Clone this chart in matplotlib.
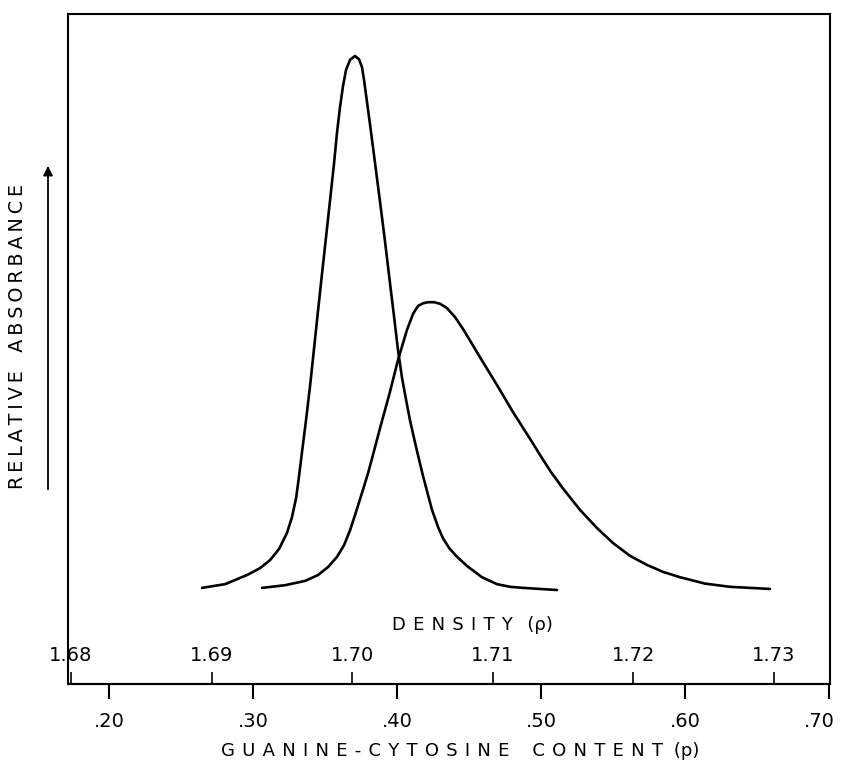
import matplotlib
matplotlib.use("Agg")
import matplotlib.pyplot as plt
from matplotlib.patches import FancyArrowPatch
from matplotlib.transforms import ScaledTranslation

plt.rcParams['font.family'] = ['DejaVu Sans']

# ---- data ----
# narrow band: GC content vs relative absorbance
gc_narrow = [0.2646, 0.2806, 0.2958, 0.3049, 0.3118, 0.3181, 0.3236, 0.3271,
             0.3299, 0.3319, 0.3340, 0.3368, 0.3396, 0.3424, 0.3451, 0.3479,
             0.3507, 0.3535, 0.3563, 0.3583, 0.3604, 0.3625, 0.3646, 0.3674,
             0.3708, 0.3736, 0.3757, 0.3771, 0.3785, 0.3799, 0.3813, 0.3847,
             0.3882, 0.3917, 0.3951, 0.3979, 0.4007, 0.4035, 0.4063, 0.4090,
             0.4132, 0.4181, 0.4243, 0.4285, 0.4319, 0.4361, 0.4410, 0.4486,
             0.4590, 0.4694, 0.4785, 0.4875, 0.4993, 0.5111]
abs_narrow = [0.004, 0.011, 0.028, 0.041, 0.056, 0.077, 0.107, 0.137,
              0.172, 0.212, 0.258, 0.318, 0.382, 0.453, 0.522, 0.592,
              0.661, 0.730, 0.800, 0.856, 0.904, 0.944, 0.974, 0.993,
              1.000, 0.994, 0.979, 0.955, 0.927, 0.899, 0.871, 0.800,
              0.727, 0.652, 0.575, 0.513, 0.449, 0.397, 0.356, 0.318,
              0.268, 0.213, 0.150, 0.118, 0.097, 0.079, 0.064, 0.045,
              0.024, 0.011, 0.006, 0.004, 0.002, 0.000]

# broad band
gc_broad = [0.3063, 0.3222, 0.3361, 0.3451, 0.3521, 0.3583, 0.3632, 0.3674,
            0.3715, 0.3757, 0.3799, 0.3833, 0.3882, 0.3951, 0.4007, 0.4069,
            0.4111, 0.4146, 0.4181, 0.4215, 0.4257, 0.4299, 0.4347, 0.4403,
            0.4458, 0.4514, 0.4576, 0.4694, 0.4806, 0.4924, 0.4993, 0.5069,
            0.5153, 0.5271, 0.5389, 0.5500, 0.5618, 0.5736, 0.5847, 0.5965,
            0.6139, 0.6313, 0.6590]
abs_broad = [0.004, 0.009, 0.017, 0.028, 0.043, 0.062, 0.084, 0.112,
             0.146, 0.182, 0.219, 0.253, 0.303, 0.371, 0.431, 0.487,
             0.517, 0.532, 0.537, 0.539, 0.539, 0.536, 0.528, 0.511,
             0.489, 0.464, 0.436, 0.384, 0.333, 0.283, 0.253, 0.221,
             0.190, 0.150, 0.116, 0.088, 0.064, 0.047, 0.034, 0.024,
             0.012, 0.006, 0.002]

gc_ticks = [0.20, 0.30, 0.40, 0.50, 0.60, 0.70]
gc_labels = ['.20', '.30', '.40', '.50', '.60', '.70']
density_ticks = [1.68, 1.69, 1.70, 1.71, 1.72, 1.73]
density_labels = ['1.68', '1.69', '1.70', '1.71', '1.72', '1.73']

TS = '\u2009'


def spaced(s, gap=TS):
    return gap.join(list(s))


# ---- figure ----
W, H = 841, 773
fig = plt.figure(figsize=(W / 100, H / 100), dpi=100)
L, R, T, B = 68, 830, 14, 684
ax = fig.add_axes([L / W, (H - B) / H, (R - L) / W, (B - T) / H])

lw_curve = 1.9
for xs, ys in [(gc_narrow, abs_narrow), (gc_broad, abs_broad)]:
    ax.plot(xs, ys, color='black', lw=lw_curve, solid_capstyle='round',
            solid_joinstyle='round')

ax.set_xlim(0.1715, 0.7007)
ax.set_ylim(-0.176, 1.0787)

for s in ax.spines.values():
    s.set_linewidth(1.5)
    s.set_color('black')

ax.set_yticks([])
ax.set_xticks(gc_ticks)
ax.set_xticklabels(gc_labels)
ax.tick_params(axis='x', direction='out', length=11, width=1.5, pad=9,
               labelsize=14, colors='black')
last = ax.xaxis.get_major_ticks()[-1].label1
last.set_transform(last.get_transform() +
                   ScaledTranslation(-7 / 72, 0, fig.dpi_scale_trans))

# density axis: ticks pointing up from the bottom line, labels above
ax2 = ax.twiny()
ax2.set_xlim(1.679787, 1.733983)
ax2.spines['top'].set_position(('axes', 0.0))
for k in ['left', 'right', 'bottom']:
    ax2.spines[k].set_visible(False)
ax2.spines['top'].set_linewidth(1.5)
ax2.set_xticks(density_ticks)
ax2.set_xticklabels(density_labels)
ax2.tick_params(axis='x', direction='out', length=9, width=1.2, pad=5,
                labelsize=14, colors='black')
ax2.set_yticks([])

# titles
fig.text(472 / W, 1 - 625 / H, spaced('DENSITY', TS * 2) + TS * 4 + '(' + 'ρ' + ')',
         ha='center', va='center', fontsize=13)
G2 = TS * 2
gc_title = (spaced('GUANINE', G2) + G2 + '-' + G2 + spaced('CYTOSINE', G2) + '    ' +
            spaced('CONTENT', G2) + TS * 3 + '(p)')
fig.text(460 / W, 1 - 751 / H, gc_title, ha='center', va='center', fontsize=13)

fig.text(18 / W, 1 - 336 / H, spaced('RELATIVE') + '   ' + spaced('ABSORBANCE'),
         ha='center', va='center', rotation=90, fontsize=13.8)

arrow = FancyArrowPatch((48 / W, 1 - 492 / H), (48 / W, 1 - 163 / H),
                        transform=fig.transFigure, arrowstyle='-|>',
                        mutation_scale=14, lw=1.3, color='black')
fig.add_artist(arrow)

fig.savefig('out.png', dpi=100, facecolor='white')
